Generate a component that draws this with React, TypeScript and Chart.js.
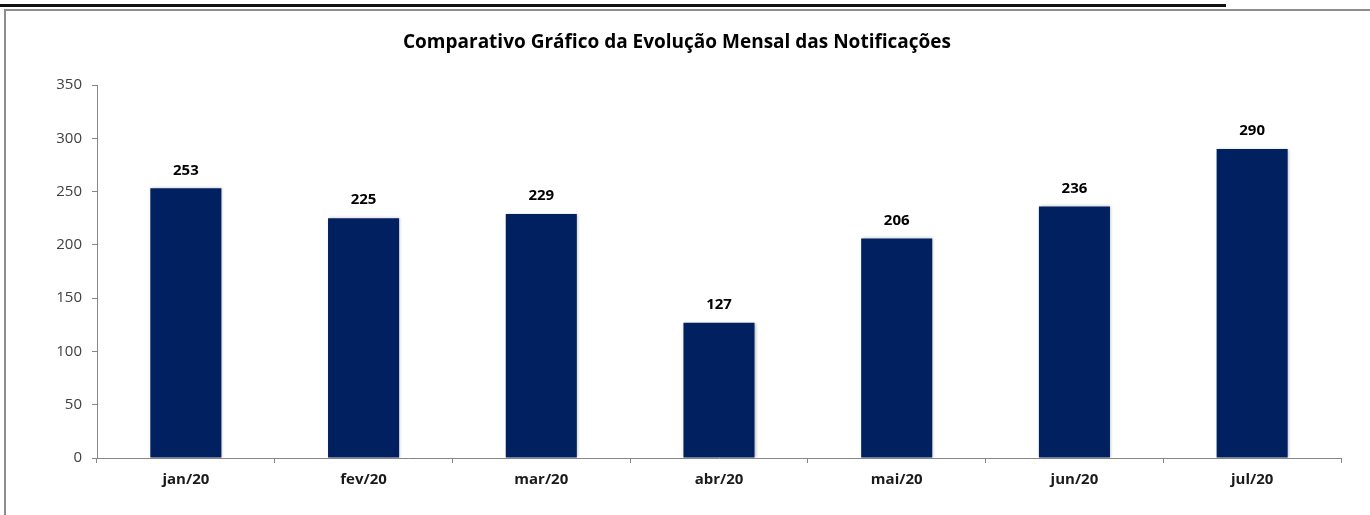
import React, { useEffect, useRef } from "react";
import { Chart, registerables } from "chart.js";

Chart.register(...registerables);

const categories = ["jan/20", "fev/20", "mar/20", "abr/20", "mai/20", "jun/20", "jul/20"];
const notificacoes = [253, 225, 229, 127, 206, 236, 290];
const yTicks = [0, 50, 100, 150, 200, 250, 300, 350];
const titleText = "Comparativo Gráfico da Evolução Mensal das Notificações";

const FONT = "'Open Sans', 'Noto Sans', sans-serif";

export default function App() {
  const ref = useRef<HTMLCanvasElement | null>(null);

  useEffect(() => {
    if (!ref.current) return;
    const titlePlugin = {
      id: "titleDraw",
      afterDraw(chart: any) {
        const ctx = chart.ctx;
        ctx.save();
        ctx.font = `bold 19px ${FONT}`;
        ctx.fillStyle = "#000000";
        ctx.textAlign = "center";
        ctx.textBaseline = "middle";
        ctx.fillText(titleText, 677, 43);
        ctx.restore();
      },
    };
    const barDeco = {
      id: "barDeco",
      beforeDatasetsDraw(chart: any) {
        const ctx = chart.ctx;
        ctx.save();
        ctx.shadowColor = "rgba(0,0,0,0.25)";
        ctx.shadowBlur = 3;
        ctx.shadowOffsetX = 1;
        ctx.shadowOffsetY = 0;
      },
      afterDatasetsDraw(chart: any) {
        const ctx = chart.ctx;
        ctx.restore();
        ctx.save();
        ctx.font = `bold 15px ${FONT}`;
        ctx.fillStyle = "#000000";
        ctx.textAlign = "center";
        ctx.textBaseline = "middle";
        const meta = chart.getDatasetMeta(0);
        meta.data.forEach((bar: any, i: number) => {
          ctx.fillText(String(notificacoes[i]), bar.x, bar.y - 18);
        });
        ctx.restore();
      },
    };
    const chart = new Chart(ref.current, {
      type: "bar",
      data: {
        labels: categories,
        datasets: [
          {
            data: notificacoes,
            backgroundColor: "#002060",
            borderWidth: 0,
            barPercentage: 0.4,
            categoryPercentage: 1,
          },
        ],
      },
      options: {
        animation: false,
        responsive: false,
        layout: { padding: { top: 85, right: 29, bottom: 0, left: 0 } },
        plugins: {
          legend: { display: false },
          title: { display: false },
          tooltip: { enabled: false },
        },
        scales: {
          x: {
            afterFit(scale: any) {
              scale.height = 57;
            },
            grid: {
              drawOnChartArea: false,
              drawTicks: true,
              tickLength: 5,
              color: "#878787",
              offset: true,
            },
            border: { color: "#878787", width: 1 },
            ticks: {
              font: { family: FONT, size: 15, weight: "bold" },
              color: "#1a1a1a",
              padding: 8,
            },
          },
          y: {
            min: 0,
            max: 350,
            afterFit(scale: any) {
              scale.width = 97;
            },
            afterBuildTicks(scale: any) {
              scale.ticks = yTicks.map((v) => ({ value: v }));
            },
            grid: {
              drawOnChartArea: false,
              drawTicks: true,
              tickLength: 5,
              color: "#878787",
            },
            border: { color: "#878787", width: 1 },
            ticks: {
              font: { family: FONT, size: 15 },
              color: "#404040",
              padding: 10,
            },
          },
        },
      },
      plugins: [titlePlugin, barDeco],
    });
    return () => chart.destroy();
  }, []);

  return (
    <div style={{ position: "absolute", left: 0, top: 0, width: 1370, height: 515, background: "#ffffff", overflow: "hidden" }}>
      <div style={{ position: "absolute", left: 0, top: 4, width: 1226, height: 3, background: "#111111" }} />
      <div
        style={{
          position: "absolute",
          left: 4,
          top: 9,
          width: 1370,
          height: 520,
          borderLeft: "2px solid #8c8c8c",
          borderTop: "2px solid #8c8c8c",
          boxSizing: "border-box",
        }}
      />
      <canvas ref={ref} width={1370} height={515} style={{ position: "absolute", left: 0, top: 0 }} />
    </div>
  );
}
